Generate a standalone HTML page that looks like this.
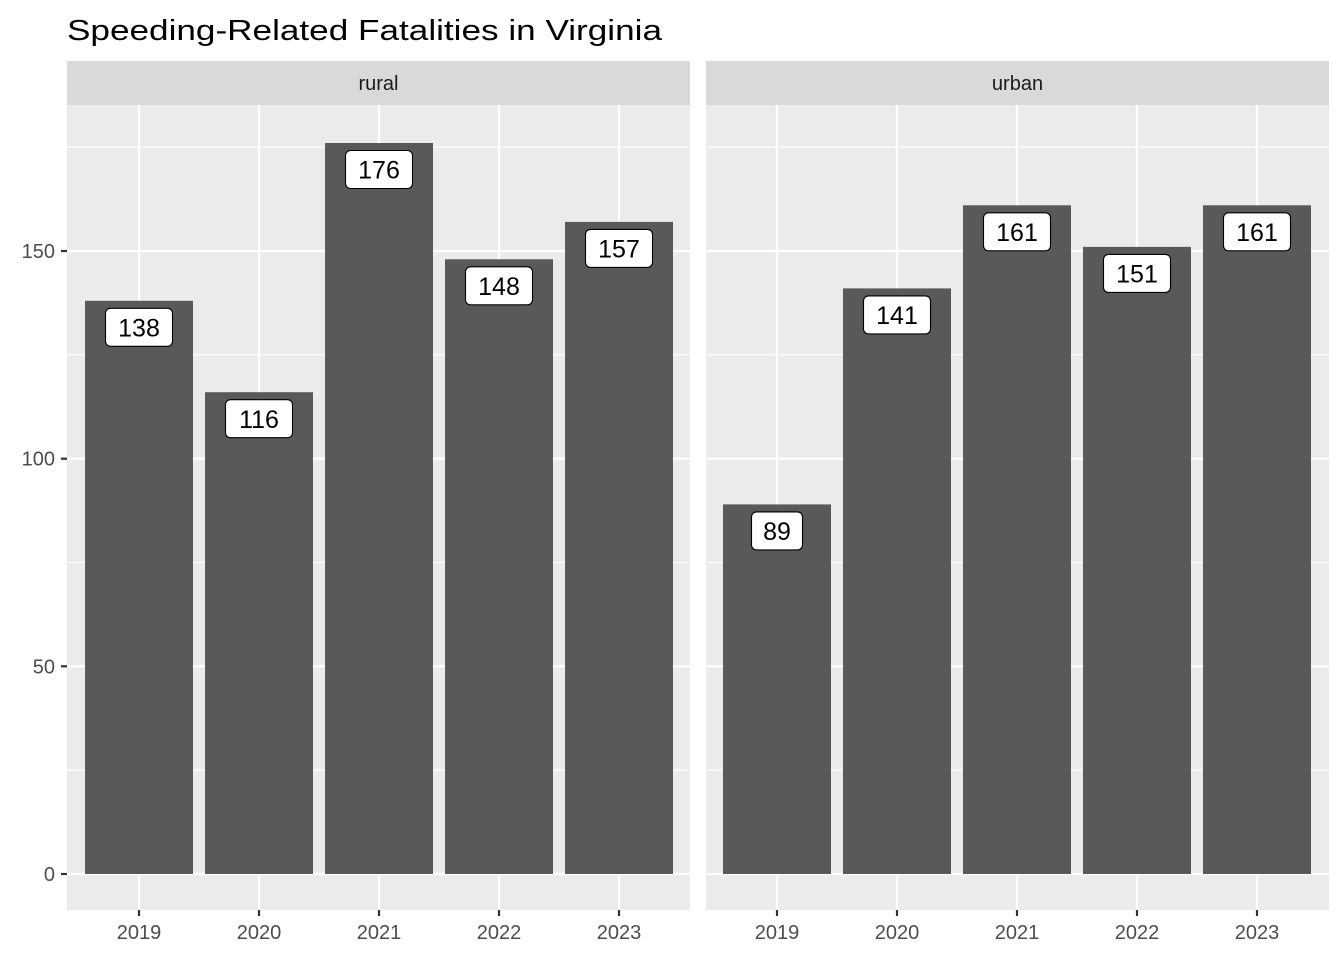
<!DOCTYPE html>
<html><head><meta charset="utf-8"><style>html,body{margin:0;padding:0;background:#fff}svg{display:block}</style></head>
<body>
<svg width="1344" height="960" xmlns="http://www.w3.org/2000/svg" font-family="Liberation Sans, Arial, sans-serif">
<rect width="1344" height="960" fill="#fff"/>
<text x="67" y="40" font-size="29" fill="#000" textLength="595" lengthAdjust="spacingAndGlyphs">Speeding-Related Fatalities in Virginia</text>
<g id="panels">
<rect x="67" y="61" width="623" height="44" fill="#d9d9d9"/>
<text x="378.5" y="90" font-size="20" fill="#1a1a1a" text-anchor="middle">rural</text>
<rect x="67" y="105" width="623" height="805" fill="#ebebeb"/>
<g stroke="#fff" stroke-width="1.1">
<line x1="67" x2="690" y1="770.2" y2="770.2"/><line x1="67" x2="690" y1="562.5" y2="562.5"/><line x1="67" x2="690" y1="354.8" y2="354.8"/><line x1="67" x2="690" y1="147.2" y2="147.2"/>
</g>
<g stroke="#fff" stroke-width="2.2">
<line x1="67" x2="690" y1="874" y2="874"/><line x1="67" x2="690" y1="666.3" y2="666.3"/><line x1="67" x2="690" y1="458.7" y2="458.7"/><line x1="67" x2="690" y1="251" y2="251"/>
<line x1="139" x2="139" y1="105" y2="910"/><line x1="259" x2="259" y1="105" y2="910"/><line x1="379" x2="379" y1="105" y2="910"/><line x1="499" x2="499" y1="105" y2="910"/><line x1="619" x2="619" y1="105" y2="910"/>
</g>
<g fill="#595959">
<rect x="85" y="300.8" width="108" height="573.2"/>
<rect x="205" y="392.2" width="108" height="481.8"/>
<rect x="325" y="143" width="108" height="731"/>
<rect x="445" y="259.3" width="108" height="614.7"/>
<rect x="565" y="221.9" width="108" height="652.1"/>
</g>
<rect x="706" y="61" width="623" height="44" fill="#d9d9d9"/>
<text x="1017.5" y="90" font-size="20" fill="#1a1a1a" text-anchor="middle">urban</text>
<rect x="706" y="105" width="623" height="805" fill="#ebebeb"/>
<g stroke="#fff" stroke-width="1.1">
<line x1="706" x2="1329" y1="770.2" y2="770.2"/><line x1="706" x2="1329" y1="562.5" y2="562.5"/><line x1="706" x2="1329" y1="354.8" y2="354.8"/><line x1="706" x2="1329" y1="147.2" y2="147.2"/>
</g>
<g stroke="#fff" stroke-width="2.2">
<line x1="706" x2="1329" y1="874" y2="874"/><line x1="706" x2="1329" y1="666.3" y2="666.3"/><line x1="706" x2="1329" y1="458.7" y2="458.7"/><line x1="706" x2="1329" y1="251" y2="251"/>
<line x1="777" x2="777" y1="105" y2="910"/><line x1="897" x2="897" y1="105" y2="910"/><line x1="1017" x2="1017" y1="105" y2="910"/><line x1="1137" x2="1137" y1="105" y2="910"/><line x1="1257" x2="1257" y1="105" y2="910"/>
</g>
<g fill="#595959">
<rect x="723" y="504.4" width="108" height="369.6"/>
<rect x="843" y="288.4" width="108" height="585.6"/>
<rect x="963" y="205.3" width="108" height="668.7"/>
<rect x="1083" y="246.9" width="108" height="627.1"/>
<rect x="1203" y="205.3" width="108" height="668.7"/>
</g>
</g>
<g font-size="25" text-anchor="middle" fill="#000">
<g fill="#fff" stroke="#000" stroke-width="1.1">
<rect x="105.5" y="308.3" width="67" height="38" rx="5"/>
<rect x="225.5" y="399.7" width="67" height="38" rx="5"/>
<rect x="345.5" y="150.5" width="67" height="38" rx="5"/>
<rect x="465.5" y="266.8" width="67" height="38" rx="5"/>
<rect x="585.5" y="229.4" width="67" height="38" rx="5"/>
<rect x="751.5" y="511.9" width="51" height="38" rx="5"/>
<rect x="863.5" y="295.9" width="67" height="38" rx="5"/>
<rect x="983.5" y="212.8" width="67" height="38" rx="5"/>
<rect x="1103.5" y="254.4" width="67" height="38" rx="5"/>
<rect x="1223.5" y="212.8" width="67" height="38" rx="5"/>
</g>
<text x="139" y="336.5">138</text>
<text x="259" y="427.9">116</text>
<text x="379" y="178.7">176</text>
<text x="499" y="295">148</text>
<text x="619" y="257.6">157</text>
<text x="777" y="540.1">89</text>
<text x="897" y="324.1">141</text>
<text x="1017" y="241">161</text>
<text x="1137" y="282.6">151</text>
<text x="1257" y="241">161</text>
</g>
<g stroke="#333" stroke-width="2.2">
<line x1="61" x2="67" y1="874" y2="874"/><line x1="61" x2="67" y1="666.3" y2="666.3"/><line x1="61" x2="67" y1="458.7" y2="458.7"/><line x1="61" x2="67" y1="251" y2="251"/>
</g>
<g font-size="20" fill="#4d4d4d" text-anchor="end">
<text x="55" y="881">0</text><text x="55" y="673.3">50</text><text x="55" y="465.7">100</text><text x="55" y="258">150</text>
</g>
<g stroke="#333" stroke-width="2.2">
<line x1="139" x2="139" y1="910" y2="916"/><line x1="259" x2="259" y1="910" y2="916"/><line x1="379" x2="379" y1="910" y2="916"/><line x1="499" x2="499" y1="910" y2="916"/><line x1="619" x2="619" y1="910" y2="916"/>
<line x1="777" x2="777" y1="910" y2="916"/><line x1="897" x2="897" y1="910" y2="916"/><line x1="1017" x2="1017" y1="910" y2="916"/><line x1="1137" x2="1137" y1="910" y2="916"/><line x1="1257" x2="1257" y1="910" y2="916"/>
</g>
<g font-size="20" fill="#4d4d4d" text-anchor="middle">
<text x="139" y="939">2019</text><text x="259" y="939">2020</text><text x="379" y="939">2021</text><text x="499" y="939">2022</text><text x="619" y="939">2023</text>
<text x="777" y="939">2019</text><text x="897" y="939">2020</text><text x="1017" y="939">2021</text><text x="1137" y="939">2022</text><text x="1257" y="939">2023</text>
</g>
</svg>
</body></html>
